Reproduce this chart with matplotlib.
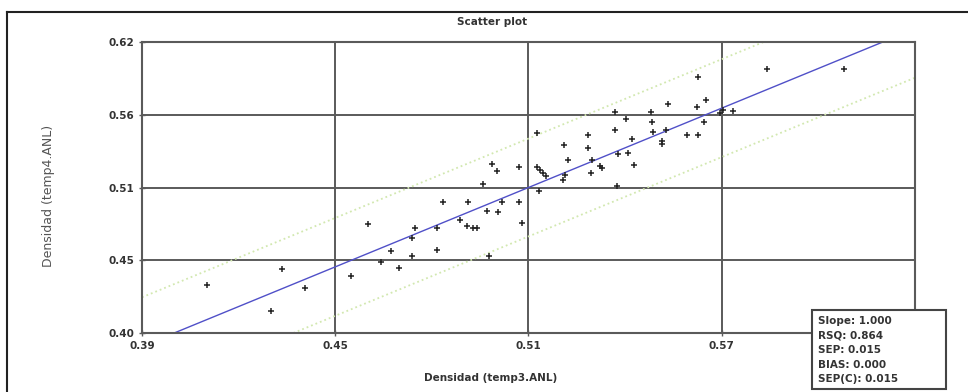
import matplotlib.pyplot as plt
import numpy as np

# data
x_vals = [0.4101, 0.4300, 0.4334, 0.4406, 0.4548, 0.4603, 0.4642, 0.4672, 0.4698,
          0.4737, 0.4737, 0.4748, 0.4815, 0.4815, 0.4834, 0.4887, 0.4908, 0.4927,
          0.4941, 0.4913, 0.4960, 0.4970, 0.4978, 0.4986, 0.5003, 0.5004, 0.5019,
          0.5071, 0.5071, 0.5079, 0.5125, 0.5135, 0.5145, 0.5155, 0.5127, 0.5133,
          0.5208, 0.5213, 0.5211, 0.5224, 0.5286, 0.5286, 0.5294, 0.5296, 0.5322,
          0.5327, 0.5368, 0.5368, 0.5376, 0.5377, 0.5403, 0.5410, 0.5420, 0.5428,
          0.5480, 0.5484, 0.5487, 0.5513, 0.5515, 0.5526, 0.5534, 0.5591, 0.5624,
          0.5627, 0.5627, 0.5645, 0.5650, 0.5695, 0.5705, 0.5735, 0.5841, 0.6079]
y_vals = [0.4365, 0.4169, 0.4484, 0.4343, 0.4431, 0.4825, 0.4537, 0.4623, 0.4489,
          0.4716, 0.4582, 0.4792, 0.4797, 0.4628, 0.4989, 0.4855, 0.4809, 0.4797,
          0.4792, 0.4993, 0.5125, 0.4923, 0.4582, 0.5280, 0.5225, 0.4913, 0.4993,
          0.5253, 0.4989, 0.4830, 0.5258, 0.5235, 0.5212, 0.5190, 0.5513, 0.5070,
          0.5157, 0.5195, 0.5422, 0.5309, 0.5494, 0.5402, 0.5208, 0.5309, 0.5263,
          0.5248, 0.5669, 0.5531, 0.5109, 0.5354, 0.5619, 0.5359, 0.5468, 0.5271,
          0.5669, 0.5598, 0.5517, 0.5453, 0.5430, 0.5531, 0.5732, 0.5498, 0.5705,
          0.5934, 0.5494, 0.5598, 0.5762, 0.5665, 0.5685, 0.5675, 0.5997, 0.5997]

slope = 1.000
bias = 0.000
band = 0.037

x_ticks = [0.39, 0.45, 0.51, 0.57, 0.63]
x_labels = ['0.39', '0.45', '0.51', '0.57', '']
y_ticks = [0.40, 0.455, 0.51, 0.565, 0.62]
y_labels = ['0.40', '0.45', '0.51', '0.56', '0.62']

stats = ['Slope: 1.000', 'RSQ: 0.864', 'SEP: 0.015', 'BIAS: 0.000', 'SEP(C): 0.015']

W, H = 968, 392
fig = plt.figure(figsize=(W / 100, H / 100), dpi=100)
ax = fig.add_axes([142 / W, 1 - 333 / H, 773 / W, 291 / H])

grid_c = '#5a5a5a'
ax.set_xlim(0.39, 0.63)
ax.set_ylim(0.40, 0.62)
ax.set_xticks(x_ticks)
ax.set_xticklabels(x_labels)
ax.set_yticks(y_ticks)
ax.set_yticklabels(y_labels)
ax.grid(True, color=grid_c, lw=1.4)
ax.set_axisbelow(True)
for s in ax.spines.values():
    s.set_color(grid_c)
    s.set_linewidth(1.5)
ax.tick_params(direction='inout', length=5, width=1, color=grid_c,
               labelsize=7.5, labelcolor='#333333', pad=3)
for lab in ax.get_xticklabels() + ax.get_yticklabels():
    lab.set_fontweight('bold')

# regression line and dotted bands
xx = np.array([0.39, 0.63])
ax.plot(xx, slope * xx + bias, color='#5050c8', lw=1)
ax.plot(xx, slope * xx + bias + band, color='#d2e8b0', lw=1.3, ls=':')
ax.plot(xx, slope * xx + bias - band, color='#d2e8b0', lw=1.3, ls=':')

ax.plot(x_vals, y_vals, '+', color='#222222', ms=5, mew=1.1, ls='none')

ax.set_xlabel('Densidad (temp3.ANL)', fontsize=7.5, fontweight='bold', color='#333333')
ax.xaxis.set_label_coords((491 - 142) / 773, -(373 - 333) / 291)
ax.set_ylabel('Densidad (temp4.ANL)', fontsize=9, color='#555555')
ax.yaxis.set_label_coords(-(142 - 55) / 773, (333 - 196) / 291)

fig.text(492 / W, 1 - 22 / H, 'Scatter plot', ha='center', va='center',
         fontsize=7.5, fontweight='bold', color='#333333')

# outer frame (cut by image edges)
fig.add_artist(plt.Line2D([7 / W, 7 / W], [0, 1 - 12 / H], color='#222222', lw=1.5))
fig.add_artist(plt.Line2D([7 / W, 1], [1 - 12 / H, 1 - 12 / H], color='#222222', lw=1.5))

# statistics box
fig.add_artist(plt.Rectangle((812 / W, 1 - 389 / H), 134 / W, 79 / H,
                             transform=fig.transFigure, facecolor='white',
                             edgecolor='#444444', lw=1.5))
for i, line in enumerate(stats):
    fig.text(818 / W, 1 - (321 + i * 14.5) / H, line, ha='left', va='center',
             fontsize=7.5, fontweight='bold', color='#333333')

fig.savefig('out.png', dpi=100, facecolor='white')
